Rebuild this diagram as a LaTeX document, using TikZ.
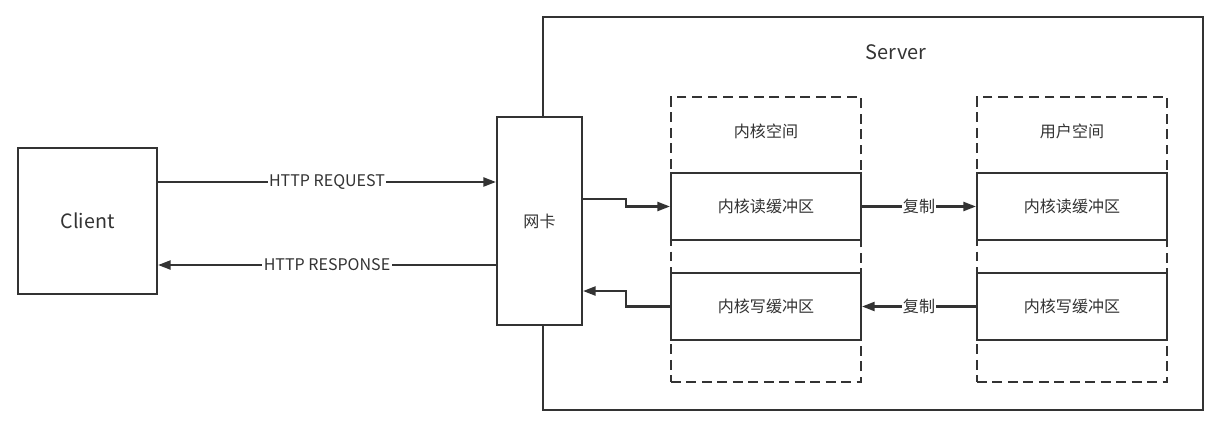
\documentclass[tikz,border=0pt]{standalone}
\usepackage{fontspec}
\setmainfont{Noto Sans CJK SC}
\usetikzlibrary{arrows.meta}

\definecolor{ink}{HTML}{333333}

\tikzset{
    box/.style={draw=ink, line width=1.5pt, fill=white, text=ink, font=\fontsize{11.4}{13}\selectfont,
        minimum width=#1, inner sep=0pt},
    dashbox/.style={draw=ink, line width=1.5pt, dash pattern=on 7pt off 4pt,
        minimum width=4.75cm, minimum height=7.125cm, inner sep=0pt},
    conn/.style={draw=ink, line width=1.5pt, -{Triangle[length=9pt,width=6.5pt]}},
    tag/.style={fill=white, text=ink, inner sep=1pt, font=\fontsize{11.4}{13}\selectfont},
}

\begin{document}
\begin{tikzpicture}[x=0.025cm, y=-0.025cm]
    \useasboundingbox (0,0) rectangle (1231,433);

    % server frame
    \draw[draw=ink, line width=1.5pt] (543,17) rectangle (1203,410);
    \node[text=ink, font=\fontsize{14.2}{16}\selectfont] (server) at (896,52) {Server};

    \node[box=3.475cm, minimum height=3.65cm, font=\fontsize{14}{16}\selectfont] (client) at (87.5,221) {Client};
    \node[box=2.125cm, minimum height=5.2cm] (nic) at (539.5,221) {网卡};

    % kernel / user space
    \node[dashbox] (kspace) at (766,239.5) {};
    \node[dashbox] (uspace) at (1072,239.5) {};
    \node[tag] (klabel) at (766,131) {内核空间};
    \node[tag] (ulabel) at (1072,131) {用户空间};

    \foreach \col/\x in {k/766, u/1072}
    {
        \node[box=4.75cm, minimum height=1.675cm] (\col read) at (\x,206.5) {内核读缓冲区};
        \node[box=4.75cm, minimum height=1.675cm] (\col write) at (\x,306.5) {内核写缓冲区};
    }

    % client <-> nic
    \draw[conn] ([yshift=0.975cm]client.east) -- node[tag] {HTTP REQUEST} ([yshift=0.975cm]nic.west);
    \draw[conn] ([yshift=-1.1cm]nic.west) -- node[tag] {HTTP RESPONSE} ([yshift=-1.1cm]client.east);

    % nic <-> kernel buffers
    \draw[conn] ([yshift=0.55cm]nic.east) -- ++(43,0) |- (kread.west);
    \draw[conn] (kwrite.west) -- ++(-44,0) |- ([yshift=-1.75cm]nic.east);

    % copies
    \draw[conn] (kread.east) -- node[tag] {复制} (uread.west);
    \draw[conn] (uwrite.west) -- node[tag] {复制} (kwrite.east);
\end{tikzpicture}
\end{document}
